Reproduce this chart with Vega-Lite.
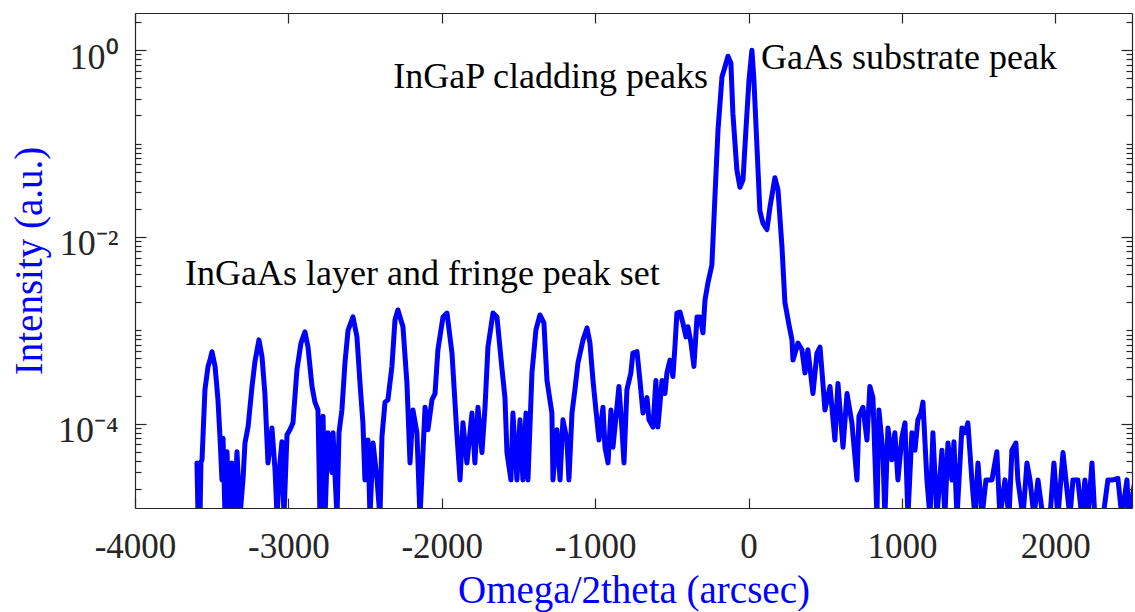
{
  "$schema": "https://vega.github.io/schema/vega-lite/v6.json",
  "width": 997,
  "height": 495,
  "autosize": {"type": "none"},
  "padding": {"left": 135, "top": 13, "right": 3, "bottom": 104},
  "background": "white",
  "config": {"view": {"stroke": null}, "font": "Liberation Serif"},
  "datasets": {
    "scan": [
      {"omega": -3596, "intensity": 3.8e-5}, {"omega": -3589, "intensity": 1e-5}, {"omega": -3576, "intensity": 1e-5},
      {"omega": -3570, "intensity": 3.9e-5}, {"omega": -3563, "intensity": 4.1e-5}, {"omega": -3544, "intensity": 2.3e-4},
      {"omega": -3524, "intensity": 4.1e-4}, {"omega": -3511, "intensity": 4.8e-4}, {"omega": -3498, "intensity": 5.9e-4},
      {"omega": -3478, "intensity": 4.1e-4}, {"omega": -3459, "intensity": 1.8e-4}, {"omega": -3446, "intensity": 7.2e-5},
      {"omega": -3433, "intensity": 2.5e-5}, {"omega": -3426, "intensity": 7e-5}, {"omega": -3413, "intensity": 1e-5},
      {"omega": -3400, "intensity": 5e-5}, {"omega": -3387, "intensity": 1e-5}, {"omega": -3368, "intensity": 3.8e-5},
      {"omega": -3355, "intensity": 1e-5}, {"omega": -3335, "intensity": 5e-5}, {"omega": -3316, "intensity": 1e-5},
      {"omega": -3296, "intensity": 2.5e-5}, {"omega": -3283, "intensity": 6.2e-5}, {"omega": -3263, "intensity": 9.2e-5},
      {"omega": -3237, "intensity": 2.5e-4}, {"omega": -3218, "intensity": 4.6e-4}, {"omega": -3192, "intensity": 7.9e-4},
      {"omega": -3172, "intensity": 5.2e-4}, {"omega": -3153, "intensity": 2.1e-4}, {"omega": -3133, "intensity": 3.8e-5},
      {"omega": -3107, "intensity": 9e-5}, {"omega": -3087, "intensity": 3.2e-5}, {"omega": -3074, "intensity": 1e-5},
      {"omega": -3055, "intensity": 3.8e-5}, {"omega": -3042, "intensity": 6.4e-5}, {"omega": -3029, "intensity": 1e-5},
      {"omega": -3009, "intensity": 7.6e-5}, {"omega": -2990, "intensity": 8.6e-5}, {"omega": -2970, "intensity": 1.02e-4},
      {"omega": -2944, "intensity": 3.8e-4}, {"omega": -2918, "intensity": 7.3e-4}, {"omega": -2892, "intensity": 9.6e-4},
      {"omega": -2872, "intensity": 6.6e-4}, {"omega": -2846, "intensity": 2.5e-4}, {"omega": -2827, "intensity": 1.7e-4},
      {"omega": -2807, "intensity": 1.4e-4}, {"omega": -2794, "intensity": 1e-5}, {"omega": -2774, "intensity": 1.2e-4},
      {"omega": -2761, "intensity": 1e-5}, {"omega": -2742, "intensity": 8e-5}, {"omega": -2716, "intensity": 3e-5},
      {"omega": -2709, "intensity": 8e-5}, {"omega": -2683, "intensity": 1e-5}, {"omega": -2670, "intensity": 8e-5},
      {"omega": -2651, "intensity": 1.4e-4}, {"omega": -2631, "intensity": 4.5e-4}, {"omega": -2611, "intensity": 1.0e-3},
      {"omega": -2579, "intensity": 1.39e-3}, {"omega": -2553, "intensity": 8.5e-4}, {"omega": -2533, "intensity": 2.7e-4},
      {"omega": -2514, "intensity": 1.02e-4}, {"omega": -2501, "intensity": 2.5e-5}, {"omega": -2481, "intensity": 6.7e-5},
      {"omega": -2468, "intensity": 1e-5}, {"omega": -2448, "intensity": 6.2e-5}, {"omega": -2422, "intensity": 2.5e-5},
      {"omega": -2403, "intensity": 1e-5}, {"omega": -2390, "intensity": 7.2e-5}, {"omega": -2370, "intensity": 1.7e-4},
      {"omega": -2351, "intensity": 1.8e-4}, {"omega": -2325, "intensity": 4.1e-4}, {"omega": -2305, "intensity": 1.29e-3},
      {"omega": -2286, "intensity": 1.65e-3}, {"omega": -2253, "intensity": 1.09e-3}, {"omega": -2227, "intensity": 2.7e-4},
      {"omega": -2207, "intensity": 3.8e-5}, {"omega": -2188, "intensity": 1.4e-4}, {"omega": -2162, "intensity": 8e-5},
      {"omega": -2142, "intensity": 1e-5}, {"omega": -2109, "intensity": 1.5e-4}, {"omega": -2090, "intensity": 8.6e-5},
      {"omega": -2064, "intensity": 1.8e-4}, {"omega": -2044, "intensity": 2.1e-4}, {"omega": -2025, "intensity": 6.2e-4},
      {"omega": -1992, "intensity": 1.39e-3}, {"omega": -1966, "intensity": 1.53e-3}, {"omega": -1933, "intensity": 5.6e-4},
      {"omega": -1914, "intensity": 1.7e-4}, {"omega": -1901, "intensity": 7.6e-5}, {"omega": -1881, "intensity": 2.5e-5},
      {"omega": -1862, "intensity": 1.02e-4}, {"omega": -1836, "intensity": 3.8e-5}, {"omega": -1803, "intensity": 1.3e-4},
      {"omega": -1784, "intensity": 3.8e-5}, {"omega": -1764, "intensity": 1.5e-4}, {"omega": -1738, "intensity": 4.9e-5},
      {"omega": -1718, "intensity": 1.5e-4}, {"omega": -1699, "intensity": 6.6e-4}, {"omega": -1666, "intensity": 1.53e-3},
      {"omega": -1640, "intensity": 1.39e-3}, {"omega": -1607, "intensity": 3.8e-4}, {"omega": -1588, "intensity": 1.9e-4},
      {"omega": -1575, "intensity": 4.9e-5}, {"omega": -1549, "intensity": 2.5e-5}, {"omega": -1536, "intensity": 1.3e-4},
      {"omega": -1510, "intensity": 2.5e-5}, {"omega": -1490, "intensity": 1.1e-4}, {"omega": -1471, "intensity": 2.5e-5},
      {"omega": -1451, "intensity": 1.3e-4}, {"omega": -1438, "intensity": 2.5e-5}, {"omega": -1412, "intensity": 3.5e-4},
      {"omega": -1386, "intensity": 1.01e-3}, {"omega": -1360, "intensity": 1.46e-3}, {"omega": -1334, "intensity": 1.2e-3},
      {"omega": -1314, "intensity": 2.9e-4}, {"omega": -1282, "intensity": 1.3e-4}, {"omega": -1275, "intensity": 2.5e-5},
      {"omega": -1249, "intensity": 8.6e-5}, {"omega": -1229, "intensity": 2.5e-5}, {"omega": -1210, "intensity": 1.1e-4},
      {"omega": -1184, "intensity": 6.7e-5}, {"omega": -1171, "intensity": 2.5e-5}, {"omega": -1151, "intensity": 1.3e-4},
      {"omega": -1132, "intensity": 2.3e-4}, {"omega": -1112, "intensity": 4.5e-4}, {"omega": -1079, "intensity": 7.9e-4},
      {"omega": -1053, "intensity": 1.06e-3}, {"omega": -1034, "intensity": 7.3e-4}, {"omega": -1014, "intensity": 2.9e-4},
      {"omega": -995, "intensity": 1.4e-4}, {"omega": -975, "intensity": 6.7e-5}, {"omega": -949, "intensity": 1.5e-4},
      {"omega": -936, "intensity": 5.6e-5}, {"omega": -916, "intensity": 3.8e-5}, {"omega": -897, "intensity": 1.4e-4},
      {"omega": -884, "intensity": 5.6e-5}, {"omega": -858, "intensity": 1.5e-4}, {"omega": -845, "intensity": 2.5e-4},
      {"omega": -825, "intensity": 8.6e-5}, {"omega": -812, "intensity": 3.8e-5}, {"omega": -793, "intensity": 2.3e-4},
      {"omega": -767, "intensity": 3.5e-4}, {"omega": -754, "intensity": 5.7e-4}, {"omega": -727, "intensity": 5.9e-4},
      {"omega": -708, "intensity": 2.9e-4}, {"omega": -688, "intensity": 1.3e-4}, {"omega": -662, "intensity": 1.9e-4},
      {"omega": -649, "intensity": 1.1e-4}, {"omega": -623, "intensity": 9.2e-5}, {"omega": -604, "intensity": 2.9e-4},
      {"omega": -591, "intensity": 9.2e-5}, {"omega": -564, "intensity": 2.9e-4}, {"omega": -545, "intensity": 2.1e-4},
      {"omega": -532, "intensity": 3.5e-4}, {"omega": -512, "intensity": 4.8e-4}, {"omega": -493, "intensity": 3.2e-4},
      {"omega": -480, "intensity": 6.6e-4}, {"omega": -467, "intensity": 1.53e-3}, {"omega": -447, "intensity": 1.57e-3},
      {"omega": -428, "intensity": 1.2e-3}, {"omega": -408, "intensity": 8.5e-4}, {"omega": -395, "intensity": 1.09e-3},
      {"omega": -375, "intensity": 7.3e-4}, {"omega": -356, "intensity": 4.1e-4}, {"omega": -336, "intensity": 1.39e-3},
      {"omega": -317, "intensity": 1.39e-3}, {"omega": -297, "intensity": 9.4e-4}, {"omega": -284, "intensity": 2.1e-3},
      {"omega": -265, "intensity": 3.2e-3}, {"omega": -239, "intensity": 5.0e-3}, {"omega": -219, "intensity": 0.027},
      {"omega": -199, "intensity": 0.14}, {"omega": -173, "intensity": 0.52}, {"omega": -160, "intensity": 0.61},
      {"omega": -134, "intensity": 0.86}, {"omega": -115, "intensity": 0.73}, {"omega": -102, "intensity": 0.21},
      {"omega": -76, "intensity": 0.052}, {"omega": -56, "intensity": 0.034}, {"omega": -36, "intensity": 0.041},
      {"omega": -17, "intensity": 0.14}, {"omega": 3, "intensity": 0.48}, {"omega": 22, "intensity": 1.0},
      {"omega": 35, "intensity": 0.48}, {"omega": 55, "intensity": 0.092}, {"omega": 74, "intensity": 0.019},
      {"omega": 94, "intensity": 0.014}, {"omega": 120, "intensity": 0.012}, {"omega": 140, "intensity": 0.021},
      {"omega": 172, "intensity": 0.043}, {"omega": 192, "intensity": 0.032}, {"omega": 218, "intensity": 0.0078},
      {"omega": 237, "intensity": 0.002}, {"omega": 263, "intensity": 1.16e-3}, {"omega": 283, "intensity": 7.9e-4},
      {"omega": 290, "intensity": 4.8e-4}, {"omega": 322, "intensity": 7.3e-4}, {"omega": 348, "intensity": 6.2e-4},
      {"omega": 368, "intensity": 3.5e-4}, {"omega": 387, "intensity": 6.2e-4}, {"omega": 420, "intensity": 2.1e-4},
      {"omega": 446, "intensity": 5.7e-4}, {"omega": 466, "intensity": 6.6e-4}, {"omega": 485, "intensity": 2.7e-4},
      {"omega": 498, "intensity": 1.4e-4}, {"omega": 531, "intensity": 2.5e-4}, {"omega": 563, "intensity": 6.7e-5},
      {"omega": 583, "intensity": 2.7e-4}, {"omega": 616, "intensity": 5.6e-5}, {"omega": 642, "intensity": 2.1e-4},
      {"omega": 674, "intensity": 1.02e-4}, {"omega": 707, "intensity": 2.5e-5}, {"omega": 720, "intensity": 1.2e-4},
      {"omega": 746, "intensity": 1.5e-4}, {"omega": 772, "intensity": 6.7e-5}, {"omega": 791, "intensity": 2.5e-4},
      {"omega": 811, "intensity": 1.9e-4}, {"omega": 837, "intensity": 1e-5}, {"omega": 850, "intensity": 1.4e-4},
      {"omega": 876, "intensity": 4.9e-5}, {"omega": 889, "intensity": 1e-5}, {"omega": 909, "intensity": 9e-5},
      {"omega": 935, "intensity": 4.1e-5}, {"omega": 954, "intensity": 8e-5}, {"omega": 974, "intensity": 2.5e-5},
      {"omega": 1000, "intensity": 7.2e-5}, {"omega": 1020, "intensity": 1.02e-4}, {"omega": 1039, "intensity": 1e-5},
      {"omega": 1065, "intensity": 8e-5}, {"omega": 1085, "intensity": 5.2e-5}, {"omega": 1104, "intensity": 1.1e-4},
      {"omega": 1124, "intensity": 1.3e-4}, {"omega": 1137, "intensity": 1.7e-4}, {"omega": 1163, "intensity": 2.5e-5},
      {"omega": 1183, "intensity": 1e-5}, {"omega": 1202, "intensity": 8e-5}, {"omega": 1228, "intensity": 1e-5},
      {"omega": 1261, "intensity": 5.2e-5}, {"omega": 1280, "intensity": 1e-5}, {"omega": 1300, "intensity": 6.2e-5},
      {"omega": 1326, "intensity": 2.5e-5}, {"omega": 1339, "intensity": 6.4e-5}, {"omega": 1359, "intensity": 1e-5},
      {"omega": 1391, "intensity": 9e-5}, {"omega": 1411, "intensity": 8e-5}, {"omega": 1430, "intensity": 1.02e-4},
      {"omega": 1456, "intensity": 2.5e-5}, {"omega": 1476, "intensity": 1e-5}, {"omega": 1496, "intensity": 3.8e-5},
      {"omega": 1522, "intensity": 1e-5}, {"omega": 1548, "intensity": 2.5e-5}, {"omega": 1587, "intensity": 2.5e-5},
      {"omega": 1606, "intensity": 3.8e-5}, {"omega": 1619, "intensity": 5e-5}, {"omega": 1639, "intensity": 1e-5},
      {"omega": 1672, "intensity": 2.5e-5}, {"omega": 1698, "intensity": 1e-5}, {"omega": 1717, "intensity": 5.2e-5},
      {"omega": 1743, "intensity": 6.2e-5}, {"omega": 1756, "intensity": 2.5e-5}, {"omega": 1789, "intensity": 1e-5},
      {"omega": 1815, "intensity": 3.8e-5}, {"omega": 1835, "intensity": 2.5e-5}, {"omega": 1861, "intensity": 1e-5},
      {"omega": 1887, "intensity": 2.5e-5}, {"omega": 1919, "intensity": 1e-5}, {"omega": 1965, "intensity": 1e-5},
      {"omega": 1991, "intensity": 3.8e-5}, {"omega": 2017, "intensity": 1e-5}, {"omega": 2050, "intensity": 4.9e-5},
      {"omega": 2069, "intensity": 2.5e-5}, {"omega": 2095, "intensity": 1e-5}, {"omega": 2115, "intensity": 2.5e-5},
      {"omega": 2147, "intensity": 2.5e-5}, {"omega": 2173, "intensity": 1e-5}, {"omega": 2193, "intensity": 2.5e-5},
      {"omega": 2213, "intensity": 1e-5}, {"omega": 2239, "intensity": 3.8e-5}, {"omega": 2258, "intensity": 1e-5},
      {"omega": 2311, "intensity": 1e-5}, {"omega": 2343, "intensity": 2.5e-5}, {"omega": 2376, "intensity": 2.5e-5},
      {"omega": 2408, "intensity": 2.6e-5}, {"omega": 2434, "intensity": 1e-5}, {"omega": 2467, "intensity": 2.5e-5},
      {"omega": 2480, "intensity": 1e-5}, {"omega": 2520, "intensity": 2.5e-5}
    ],
    "notes": [
      {"omega": -265, "intensity": 0.394, "label": "InGaP cladding peaks", "side": "right"},
      {"omega": 81, "intensity": 0.629, "label": "GaAs substrate peak", "side": "left"},
      {"omega": -3674, "intensity": 0.00306, "label": "InGaAs layer and fringe peak set", "side": "left"}
    ]
  },
  "layer": [
    {
      "data": {"name": "scan"},
      "mark": {"type": "line", "color": "#0000ff", "strokeWidth": 5, "strokeJoin": "round", "strokeCap": "round", "clip": true},
      "encoding": {
        "x": {
          "field": "omega", "type": "quantitative",
          "scale": {"domain": [-4000, 2500], "nice": false, "zero": false},
          "axis": {
            "orient": "bottom", "values": [-4000, -3000, -2000, -1000, 0, 1000, 2000],
            "labelExpr": "'' + datum.value",
            "title": "Omega/2theta (arcsec)", "titleFont": "Liberation Serif", "titleFontSize": 39,
            "titleFontWeight": "normal", "titleColor": "#0000ff", "titleX": 498.5, "titleY": 94,
            "titleBaseline": "alphabetic", "titleAlign": "center",
            "labelFont": "Liberation Serif", "labelFontSize": 35, "labelColor": "#262626",
            "labelPadding": 31, "labelFlush": false, "labelOverlap": false,
            "tickSize": -10, "tickColor": "#262626", "tickWidth": 1.2,
            "domainColor": "#262626", "domainWidth": 1.2, "grid": false
          }
        },
        "y": {
          "field": "intensity", "type": "quantitative",
          "scale": {"type": "log", "domain": [1.25e-5, 2.5], "nice": false},
          "axis": {
            "orient": "left",
            "values": [0.00002, 0.00003, 0.00004, 0.00005, 0.00006, 0.00007, 0.00008, 0.00009,
                       0.0001, 0.0002, 0.0003, 0.0004, 0.0005, 0.0006, 0.0007, 0.0008, 0.0009,
                       0.001, 0.002, 0.003, 0.004, 0.005, 0.006, 0.007, 0.008, 0.009,
                       0.01, 0.02, 0.03, 0.04, 0.05, 0.06, 0.07, 0.08, 0.09,
                       0.1, 0.2, 0.3, 0.4, 0.5, 0.6, 0.7, 0.8, 0.9, 1, 2],
            "labelExpr": "datum.value == 1 ? '10⁰' : datum.value == 0.01 ? '10⁻²' : datum.value == 0.0001 ? '10⁻⁴' : ''",
            "title": "Intensity (a.u.)", "titleFont": "Liberation Serif", "titleFontSize": 39,
            "titleFontWeight": "normal", "titleColor": "#0000ff", "titleAngle": -90,
            "titleX": -94, "titleY": 247.5, "titleBaseline": "alphabetic", "titleAlign": "center",
            "labelFont": "Liberation Serif", "labelFontSize": 36, "labelColor": "#262626",
            "labelPadding": 28, "labelOffset": 7, "labelFlush": false, "labelOverlap": false,
            "tickSize": {"condition": {"test": "datum.value == 1 || datum.value == 0.01 || datum.value == 0.0001", "value": -11}, "value": -6},
            "tickColor": "#262626", "tickWidth": 1.2,
            "domainColor": "#262626", "domainWidth": 1.2, "grid": false
          }
        }
      }
    },
    {
      "data": {"name": "notes"},
      "transform": [{"filter": "datum.side == 'right'"}],
      "mark": {"type": "text", "align": "right", "baseline": "alphabetic", "font": "Liberation Serif", "fontSize": 36, "color": "#000000"},
      "encoding": {
        "x": {
          "field": "omega", "type": "quantitative",
          "axis": {
            "orient": "top", "values": [-4000, -3000, -2000, -1000, 0, 1000, 2000],
            "labels": false, "title": null, "tickSize": -10, "tickColor": "#262626", "tickWidth": 1.2,
            "domainColor": "#262626", "domainWidth": 1.2, "grid": false
          }
        },
        "y": {
          "field": "intensity", "type": "quantitative",
          "axis": {
            "orient": "right",
            "values": [0.00002, 0.00003, 0.00004, 0.00005, 0.00006, 0.00007, 0.00008, 0.00009,
                       0.0001, 0.0002, 0.0003, 0.0004, 0.0005, 0.0006, 0.0007, 0.0008, 0.0009,
                       0.001, 0.002, 0.003, 0.004, 0.005, 0.006, 0.007, 0.008, 0.009,
                       0.01, 0.02, 0.03, 0.04, 0.05, 0.06, 0.07, 0.08, 0.09,
                       0.1, 0.2, 0.3, 0.4, 0.5, 0.6, 0.7, 0.8, 0.9, 1, 2],
            "labels": false, "title": null,
            "tickSize": {"condition": {"test": "datum.value == 1 || datum.value == 0.01 || datum.value == 0.0001", "value": -11}, "value": -6},
            "tickColor": "#262626", "tickWidth": 1.2,
            "domainColor": "#262626", "domainWidth": 1.2, "grid": false
          }
        },
        "text": {"field": "label", "type": "nominal"}
      }
    },
    {
      "data": {"name": "notes"},
      "transform": [{"filter": "datum.side == 'left'"}],
      "mark": {"type": "text", "align": "left", "baseline": "alphabetic", "font": "Liberation Serif", "fontSize": 36, "color": "#000000"},
      "encoding": {
        "x": {"field": "omega", "type": "quantitative", "axis": null},
        "y": {"field": "intensity", "type": "quantitative", "axis": null},
        "text": {"field": "label", "type": "nominal"}
      }
    }
  ],
  "resolve": {"axis": {"x": "independent", "y": "independent"}}
}
